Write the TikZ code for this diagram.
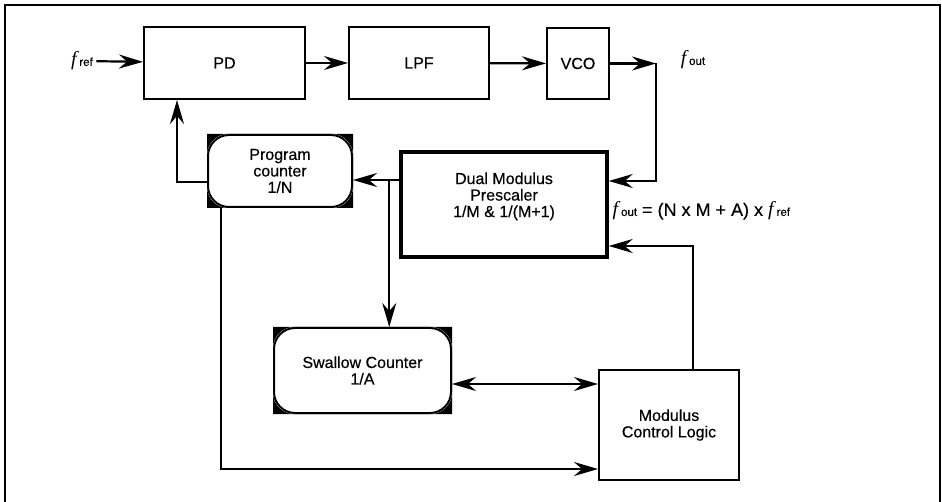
\documentclass[tikz,border=0pt]{standalone}
\usepackage{fontspec}
\setmainfont{Liberation Sans}[FakeBold=0.4]
\newfontfamily\timesf{Liberation Serif}
\usetikzlibrary{arrows.meta,calc}

\newcommand{\freq}[1]{{\timesf\itshape\fontsize{20}{20}\selectfont f}\,{\fontsize{11.5}{11.5}\selectfont #1}}
\newcommand{\cornerfill}[1]{%
\fill[even odd rule] (#1.south west) rectangle (#1.north east)
  [rounded corners=21pt] (#1.south west) rectangle (#1.north east);}

\tikzset{
  blk/.style={draw, line width=2pt, align=center, inner sep=0pt},
  cnt/.style={draw, line width=2pt, rounded corners=21pt, align=center, inner sep=0pt},
  arr/.style={line width=2.2pt, -{Stealth[length=24pt,width=14pt,inset=8pt]}},
  dbl/.style={line width=2.2pt, {Stealth[length=24pt,width=14pt,inset=8pt]}-{Stealth[length=24pt,width=14pt,inset=8pt]}}
}

\begin{document}
\begin{tikzpicture}[x=1pt,y=-1pt,font=\fontsize{16}{16.5}\selectfont]
\useasboundingbox (0,0) rectangle (942,502);

% Frame
\draw[line width=2.2pt] (5,510)--(5,5)--(940,5)--(940,510);

% Top row
\node[blk, minimum width=161pt, minimum height=72pt] (pd) at (224.5,63) {PD};
\node[blk, minimum width=140pt, minimum height=72pt] (lpf) at (419,63) {LPF};
\node[blk, minimum width=62pt, minimum height=71pt] (vco) at (578,63.5) {VCO};

% Input and output
\node (fr) at (82,61) {\freq{ref}};
\node (fo) at (693,60) {\freq{out}};
\coordinate (tap) at ([xshift=46pt]vco.east);

% Program counter
\node[cnt, minimum width=144pt, minimum height=72pt] (pc) at (280,171)
{Program\\counter\\1/N};
\cornerfill{pc}

% Prescaler
\node[blk, line width=3.5pt, minimum width=206pt, minimum height=105pt] (pre) at (504,204.5)
{Dual Modulus\\Prescaler\\1/M \& 1/(M+1)\\[3pt]};

% Swallow counter
\node[cnt, minimum width=177pt, minimum height=85pt] (sw) at (362.5,370.5)
{Swallow Counter\\1/A};
\cornerfill{sw}

% Control logic
\node[blk, minimum width=140pt, minimum height=110pt] (mcl) at (669,425)
{Modulus\\Control Logic};

% Formula
\node[anchor=west, font=\fontsize{18}{18}\selectfont] (eq) at (609,211)
{\freq{out} = (N x M + A) x \freq{ref}};

% Forward path
\draw[arr] (fr) -- (pd);
\draw[arr] (pd) -- (lpf);
\draw[arr] (lpf) -- (vco);
\draw[arr] (vco) -- (tap);
\draw[arr] (tap) |- ([yshift=23.5pt]pre.east);

% Feedback
\draw[arr] ([yshift=24.5pt]pre.west) -- ([yshift=-9pt]pc.east);
\draw[arr] ([yshift=-11pt]pc.west) -| ([xshift=-47.5pt]pd.south);
\coordinate (br) at ([xshift=-10pt,yshift=24.5pt]pre.west);
\draw[arr] (br) -- (br |- sw.north);
\coordinate (swr) at ([yshift=-13.5pt]sw.east);
\draw[dbl] (swr) -- (swr -| mcl.west);
\draw[arr] ([xshift=-59pt]pc.south) |- ([yshift=-44pt]mcl.west);
\draw[arr] ([xshift=24pt]mcl.north) |- ([yshift=-41.5pt]pre.east);
\end{tikzpicture}
\end{document}
